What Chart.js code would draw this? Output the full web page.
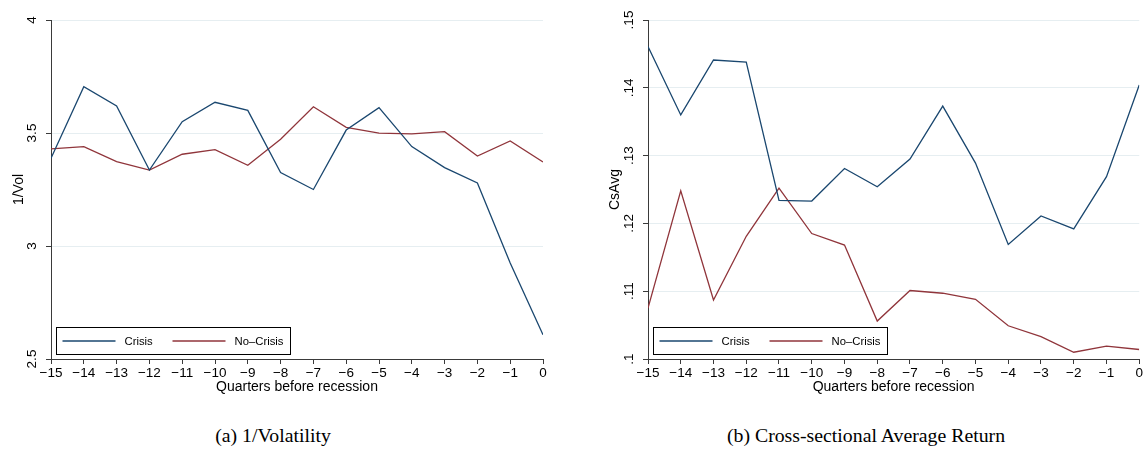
<!DOCTYPE html>
<html>
<head>
<meta charset="utf-8">
<script src="https://cdn.jsdelivr.net/npm/chart.js@4.4.1/dist/chart.umd.min.js"></script>
<style>
  html, body { margin: 0; padding: 0; background: #ffffff; }
  body { width: 1144px; height: 451px; position: relative; overflow: hidden; }
  .wrap { position: absolute; top: 0; width: 572px; height: 400px; }
  .cap { position: absolute; top: 424px; font-family: "Liberation Serif", "Times New Roman", serif; font-size: 19.8px; color: #000; white-space: nowrap; transform: translateX(-50%); }
</style>
</head>
<body>
<div class="wrap" style="left:0px"><canvas id="c1" width="572" height="400"></canvas></div>
<div class="wrap" style="left:572px"><canvas id="c2" width="572" height="400"></canvas></div>
<div class="cap" style="left:273px">(a) 1/Volatility</div>
<div class="cap" style="left:866px">(b) Cross-sectional Average Return</div>
<script>
// ---- data ----
const quarters = [-15, -14, -13, -12, -11, -10, -9, -8, -7, -6, -5, -4, -3, -2, -1, 0];
const seriesNames = ["Crisis", "No\u2013Crisis"];
const crisisVol   = [3.388, 3.705, 3.620, 3.336, 3.550, 3.636, 3.600, 3.325, 3.250, 3.513, 3.612, 3.440, 3.347, 3.279, 2.925, 2.607];
const noCrisisVol = [3.430, 3.440, 3.373, 3.336, 3.406, 3.426, 3.357, 3.472, 3.616, 3.525, 3.499, 3.496, 3.506, 3.398, 3.465, 3.372];
const crisisRet   = [0.1461, 0.1360, 0.1441, 0.1438, 0.1234, 0.1233, 0.1281, 0.1254, 0.1295, 0.1373, 0.1289, 0.1169, 0.1211, 0.1192, 0.1269, 0.1404];
const noCrisisRet = [0.1075, 0.1248, 0.1087, 0.1181, 0.1252, 0.1185, 0.1168, 0.1056, 0.1101, 0.1097, 0.1088, 0.1049, 0.1033, 0.1010, 0.1019, 0.1014];
const volTicks = [2.5, 3, 3.5, 4];
const retTicks = [0.10, 0.11, 0.12, 0.13, 0.14, 0.15];

const BLUE = "#1a476f";
const RED = "#90353b";
const AXIS = "#3a3a3a";
const GRID = "#e6eef1";
const SANS = "'Liberation Sans', Arial, Helvetica, sans-serif";

function pts(vals) { return quarters.map((q, i) => ({ x: q, y: vals[i] })); }
function fmtX(v) { return v < 0 ? "\u2212" + Math.abs(v) : String(v); }
function fmtRet(v) { return String(Number(v.toFixed(4))).replace(/^0\./, "."); }

const boxLegend = {
  id: "boxLegend",
  afterDatasetsDraw(chart) {
    const { ctx, chartArea } = chart;
    const x0 = chartArea.left + 4.5, y0 = chartArea.bottom - 32, w = 233.5, h = 27;
    ctx.save();
    ctx.fillStyle = "#ffffff";
    ctx.fillRect(x0, y0, w, h);
    ctx.strokeStyle = "#000000";
    ctx.lineWidth = 1;
    ctx.strokeRect(Math.round(x0) + 0.5, Math.round(y0) + 0.5, Math.round(w), Math.round(h));
    const cy = y0 + h / 2 + 0.5;
    const items = [{ ls: 7, le: 60, tx: 69 }, { ls: 117, le: 170, tx: 179 }];
    ctx.font = "11.3px " + SANS;
    ctx.textBaseline = "middle";
    ctx.textAlign = "left";
    chart.data.datasets.forEach((ds, i) => {
      const it = items[i];
      ctx.strokeStyle = ds.borderColor;
      ctx.lineWidth = 1.3;
      ctx.beginPath();
      ctx.moveTo(x0 + it.ls, cy);
      ctx.lineTo(x0 + it.le, cy);
      ctx.stroke();
      ctx.fillStyle = "#000";
      ctx.fillText(ds.label, x0 + it.tx, cy + 0.5);
    });
    ctx.restore();
  }
};

function makeChart(id, a, b, ymin, ymax, ystep, yTicks, yTitle, yFmt, yWidth, titlePad, padRight) {
  return new Chart(document.getElementById(id), {
    type: "line",
    data: {
      datasets: [
        { label: seriesNames[0], data: pts(a), borderColor: BLUE, backgroundColor: BLUE, borderWidth: 1.3, pointRadius: 0, tension: 0, fill: false },
        { label: seriesNames[1], data: pts(b), borderColor: RED, backgroundColor: RED, borderWidth: 1.3, pointRadius: 0, tension: 0, fill: false }
      ]
    },
    options: {
      responsive: false,
      animation: false,
      devicePixelRatio: 1,
      layout: { padding: { top: 20, left: 0, right: padRight, bottom: 0 } },
      plugins: { legend: { display: false }, tooltip: { enabled: false }, title: { display: false } },
      scales: {
        x: {
          type: "linear",
          min: quarters[0], max: quarters[quarters.length - 1],
          ticks: { stepSize: 1, autoSkip: false, maxRotation: 0, minRotation: 0, padding: 1, color: "#000", font: { family: SANS, size: 13.5 }, callback: fmtX },
          grid: { drawOnChartArea: false, drawTicks: true, tickLength: 5, tickColor: AXIS, tickWidth: 1 },
          border: { display: true, color: AXIS, width: 1 },
          title: { display: true, text: "Quarters before recession", color: "#000", font: { family: SANS, size: 14 }, padding: { top: 0, bottom: 4.6 } },
          afterFit(s) { s.height = 41; }
        },
        y: {
          type: "linear",
          min: ymin, max: ymax,
          afterBuildTicks(s) { s.ticks = yTicks.map(v => ({ value: v })); },
          ticks: { autoSkip: false, minRotation: 90, maxRotation: 90, crossAlign: "center", padding: 4, color: "#000", font: { family: SANS, size: 13.5 }, callback: yFmt },
          grid: { drawOnChartArea: true, color: GRID, lineWidth: 1, drawTicks: true, tickLength: 5, tickColor: AXIS, tickWidth: 1 },
          border: { display: true, color: AXIS, width: 1 },
          title: { display: true, text: yTitle, color: "#000", font: { family: SANS, size: 14 }, padding: { top: titlePad, bottom: 0 } },
          afterFit(s) { s.width = yWidth; }
        }
      }
    },
    plugins: [boxLegend]
  });
}

makeChart("c1", crisisVol, noCrisisVol, 2.5, 4, 0.5, volTicks, "1/Vol", v => String(v), 51, 11, 29);
makeChart("c2", crisisRet, noCrisisRet, 0.10, 0.15, 0.01, retTicks, "CsAvg", fmtRet, 76, 35, 4);
</script>
</body>
</html>
